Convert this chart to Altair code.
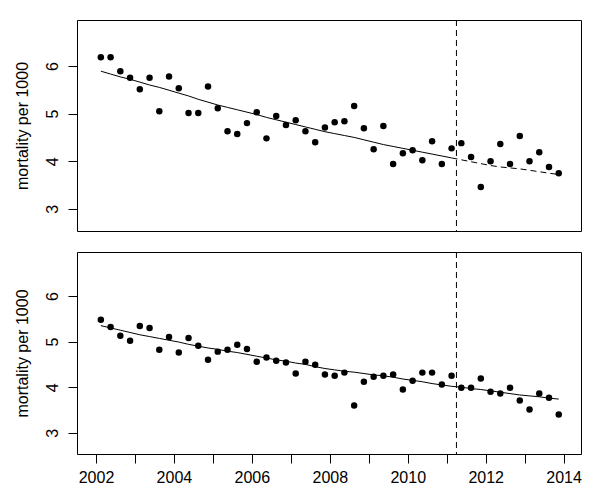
import altair as alt
import pandas as pd

# quarterly time points (quarter midpoints)
quarter_index = list(range(48))
years = [2002.125 + q / 4 for q in quarter_index]

top_obs = [6.18, 6.18, 5.89, 5.75, 5.51, 5.75, 5.05, 5.78, 5.53, 5.01, 5.01, 5.57,
           5.11, 4.63, 4.57, 4.80, 5.03, 4.48, 4.95, 4.76, 4.86, 4.63, 4.40, 4.71,
           4.82, 4.84, 5.16, 4.69, 4.25, 4.74, 3.94, 4.17, 4.23, 4.02, 4.42, 3.94,
           4.27, 4.38, 4.09, 3.46, 4.00, 4.36, 3.94, 4.53, 4.00, 4.19, 3.88, 3.75]

top_fit = [5.89, 5.83, 5.77, 5.72, 5.66, 5.60, 5.55, 5.49, 5.43, 5.37, 5.30, 5.24,
           5.18, 5.13, 5.08, 5.03, 4.98, 4.92, 4.87, 4.82, 4.77, 4.72, 4.67, 4.62,
           4.58, 4.54, 4.50, 4.45, 4.40, 4.35, 4.31, 4.27, 4.23, 4.19, 4.15, 4.11,
           4.07, 4.03, 3.99, 3.95, 3.91, 3.88, 3.86, 3.84, 3.81, 3.78, 3.75, 3.72]

bottom_obs = [5.48, 5.32, 5.13, 5.02, 5.34, 5.30, 4.82, 5.10, 4.76, 5.08, 4.91, 4.60,
              4.78, 4.82, 4.93, 4.84, 4.56, 4.65, 4.58, 4.54, 4.30, 4.56, 4.49, 4.28,
              4.25, 4.32, 3.60, 4.12, 4.23, 4.25, 4.28, 3.95, 4.14, 4.32, 4.32, 4.06,
              4.25, 3.99, 3.99, 4.19, 3.90, 3.86, 3.99, 3.71, 3.51, 3.86, 3.77, 3.40]

bottom_fit = [5.35, 5.30, 5.25, 5.20, 5.15, 5.11, 5.07, 5.03, 4.99, 4.94, 4.90, 4.86,
              4.83, 4.79, 4.76, 4.72, 4.68, 4.64, 4.60, 4.57, 4.53, 4.50, 4.45, 4.41,
              4.38, 4.35, 4.33, 4.30, 4.27, 4.25, 4.22, 4.18, 4.15, 4.12, 4.08, 4.05,
              4.02, 4.00, 3.97, 3.95, 3.92, 3.89, 3.86, 3.83, 3.81, 3.79, 3.76, 3.74]

intervention = 2011.25
x_ticks = list(range(2002, 2015))
y_ticks = [3, 4, 5, 6]

df = pd.DataFrame({
    "year": years,
    "top_obs": top_obs,
    "top_fit": top_fit,
    "bottom_obs": bottom_obs,
    "bottom_fit": bottom_fit,
})
pre = df[df["year"] < intervention]
post = df[df["year"] >= intervention - 0.25]
vline = pd.DataFrame({"year": [intervention]})

FONT = "Liberation Sans"
xscale = alt.Scale(domain=[2001.513, 2014.446], nice=False, zero=False)
yscale = alt.Scale(domain=[2.536, 6.964], nice=False, zero=False)

yaxis = alt.Axis(values=y_ticks, title="mortality per 1000", grid=False, domain=False,
                 tickSize=9, tickColor="black", labelAngle=270, labelAlign="center",
                 labelBaseline="bottom", labelPadding=8, labelFontSize=16,
                 labelFont=FONT, labelColor="black", titleFont=FONT, titleFontSize=16,
                 titleFontWeight="normal", titleColor="black", titlePadding=14)
xaxis_bottom = alt.Axis(values=x_ticks, format="d", grid=False, domain=False,
                        tickSize=9, tickColor="black",
                        labelExpr="datum.value % 2 == 0 ? datum.label : ''",
                        labelFontSize=16, labelFont=FONT, labelColor="black",
                        labelPadding=6, labelFlush=False, labelOverlap=False, title=None)


def panel(obs_col, fit_col, height, show_x, dashed_post):
    xenc = alt.X("year:Q", scale=xscale, axis=xaxis_bottom if show_x else None)
    pts = alt.Chart(df).mark_circle(size=42, color="black", opacity=1).encode(
        x=xenc, y=alt.Y(f"{obs_col}:Q", scale=yscale, axis=yaxis))
    if dashed_post:
        solid = alt.Chart(pre).mark_line(color="black", strokeWidth=1).encode(
            x="year:Q", y=f"{fit_col}:Q")
        dashed = alt.Chart(post).mark_line(color="black", strokeWidth=1,
                                           strokeDash=[6, 4]).encode(
            x="year:Q", y=f"{fit_col}:Q")
        lines = [solid, dashed]
    else:
        lines = [alt.Chart(df).mark_line(color="black", strokeWidth=1).encode(
            x="year:Q", y=f"{fit_col}:Q")]
    rule = alt.Chart(vline).mark_rule(color="black", strokeWidth=1,
                                      strokeDash=[6, 4]).encode(x="year:Q")
    return alt.layer(pts, *lines, rule).properties(width=504, height=height)


top = panel("top_obs", "top_fit", 211, False, True)
bottom = panel("bottom_obs", "bottom_fit", 202, True, False)

chart = alt.vconcat(top, bottom, spacing=19).properties(
    padding={"left": 5, "top": 11, "right": 5, "bottom": 5},
    background="white",
).configure_view(stroke="black", strokeWidth=1)

chart.save("out.html", embed_options={"renderer": "svg", "actions": False})
